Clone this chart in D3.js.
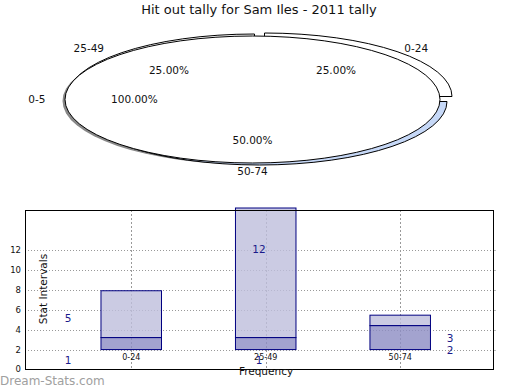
<!DOCTYPE html>
<html><head><meta charset="utf-8">
<script src="https://cdn.jsdelivr.net/npm/d3@7/dist/d3.min.js"></script>
<style>body{margin:0;background:#fff}svg{display:block}text{font-family:"DejaVu Sans",sans-serif}</style>
</head><body>
<script>
// ---- data ----
const title = "Hit out tally for Sam Iles - 2011 tally";
const pieLabels = ["0-24", "25-49", "50-74"];
const pieShares = [25, 25, 50];
const pieExtraLabel = "0-5";
const pieExtraShare = [100];

const categories = ["0-24", "25-49", "50-74"];
const barBase = [2, 2, 2];
const barLower = [3.2, 3.2, 4.4];
const barUpper = [7.9, 16.2, 5.45];
const labelLower = [1, 1, 2];
const labelUpper = [5, 12, 3];
const yTicks = [0, 2, 4, 6, 8, 10, 12];
const yGrid = [2, 4, 6, 8, 10, 12];
const xTitle = "Frequency";
const yTitle = "Stat Intervals";
const watermark = "Dream-Stats.com";

const W = 520, H = 390;
const svg = d3.select("body").append("svg").attr("width", W).attr("height", H);
const defs = svg.append("defs");
defs.append("filter").attr("id", "blur").append("feGaussianBlur").attr("stdDeviation", 0.7);

svg.append("text").attr("x", 259).attr("y", 14).attr("text-anchor", "middle")
  .attr("font-size", 13).attr("fill", "#111").text(title);

// ---- pie ----
const cx = 252.5, cy = 99.5, rx = 187.5, ry = 63.5;
const sy = ry / rx;
const arc = d3.arc().innerRadius(0).outerRadius(rx);
const pie = d3.pie().sort(null).startAngle(Math.PI / 2).endAngle(Math.PI / 2 - 2 * Math.PI);
const slices = pie(pieShares);
const full = d3.pie().sort(null)(pieExtraShare)[0];
const explode = [[12, -3], [2, -2], [7, 2]];
const fills = ["#ffffff", "#ffffff", "#c6d8f7"];
const pg = svg.append("g");

// shadow
pg.append("path").attr("d", arc(full))
  .attr("transform", `translate(${cx - 2.5},${cy + 1.5}) scale(1,${sy})`)
  .attr("fill", "#888").attr("filter", "url(#blur)");
// exploded slices
[1, 0, 2].forEach(i => {
  pg.append("path").attr("d", arc(slices[i]))
    .attr("transform", `translate(${cx + explode[i][0]},${cy + explode[i][1]}) scale(1,${sy})`)
    .attr("fill", fills[i]).attr("stroke", "#000").attr("stroke-width", 1)
    .attr("vector-effect", "non-scaling-stroke");
});
// full slice
pg.append("path").attr("d", arc(full))
  .attr("transform", `translate(${cx},${cy}) scale(1,${sy})`)
  .attr("fill", "#fff").attr("stroke", "#000").attr("stroke-width", 1)
  .attr("vector-effect", "non-scaling-stroke");

function midPoint(a, kx, ky) {
  return [cx + Math.sin(a) * rx * kx, cy - Math.cos(a) * ry * ky];
}
const mids = slices.map(s => (s.startAngle + s.endAngle) / 2).concat([3 * Math.PI / 2]);
const allLabels = pieLabels.concat([pieExtraLabel]);
const allShares = pieShares.concat(pieExtraShare);
mids.forEach((a, i) => {
  const kx = 1.15 + 0.12 * Math.abs(Math.cos(a));
  const [lx, ly] = midPoint(a, kx, 1.13);
  pg.append("text").attr("x", lx).attr("y", ly).attr("dy", "0.35em")
    .attr("text-anchor", "middle").attr("font-size", 10.5).attr("fill", "#111").text(allLabels[i]);
  const [px, py] = midPoint(a, 0.63, 0.64);
  pg.append("text").attr("x", px).attr("y", py).attr("dy", "0.35em")
    .attr("text-anchor", "middle").attr("font-size", 10.5).attr("fill", "#111")
    .text(d3.format(".2f")(allShares[i]) + "%");
});

// ---- bar chart ----
const pl = 25, pr = 493, pt = 210, pb = 369.5;
const x = d3.scaleLinear().domain([-0.79, 2.69]).range([pl, pr]);
const y = d3.scaleLinear().domain([0, 16]).range([pb, pt]);
const bw = x(0.45) - x(0);
const bg = svg.append("g");

// grid (behind, bars semi-transparent)
yGrid.forEach(v => {
  const yy = Math.round(y(v)) + 0.5;
  bg.append("line").attr("x1", pl).attr("x2", pr).attr("y1", yy).attr("y2", yy)
    .attr("stroke", "#999").attr("stroke-dasharray", "1,2");
  bg.append("line").attr("x1", pr).attr("x2", pr + 3).attr("y1", yy).attr("y2", yy)
    .attr("stroke", "#bbb");
});
categories.forEach((c, i) => {
  const xx = Math.round(x(i)) + 0.5;
  bg.append("line").attr("x1", xx).attr("x2", xx).attr("y1", pt).attr("y2", pb)
    .attr("stroke", "#999").attr("stroke-dasharray", "2,2");
});

categories.forEach((c, i) => {
  bg.append("rect").attr("x", x(i) - bw / 2).attr("width", bw)
    .attr("y", y(barUpper[i])).attr("height", y(barLower[i]) - y(barUpper[i]))
    .attr("fill", "#bebedc").attr("fill-opacity", 0.8).attr("stroke", "#000080").attr("stroke-width", 1);
  bg.append("rect").attr("x", x(i) - bw / 2).attr("width", bw)
    .attr("y", y(barLower[i])).attr("height", y(barBase[i]) - y(barLower[i]))
    .attr("fill", "#8c8cc3").attr("fill-opacity", 0.8).attr("stroke", "#000080").attr("stroke-width", 1);
});

// frame
bg.append("rect").attr("x", pl + 0.5).attr("y", pt + 0.5).attr("width", pr - pl).attr("height", pb - pt - 0.5)
  .attr("fill", "none").attr("stroke", "#000");

// y axis labels
yTicks.forEach(v => {
  bg.append("text").attr("x", 21).attr("y", y(v)).attr("dy", "0.35em").attr("text-anchor", "end")
    .attr("font-size", 8.5).attr("fill", "#111").text(v);
});
// x tick labels
categories.forEach((c, i) => {
  bg.append("text").attr("x", x(i)).attr("y", 357.5).attr("dy", "0.35em").attr("text-anchor", "middle")
    .attr("font-size", 8).attr("fill", "#111").text(c);
});

// value labels
const lx = d3.scalePoint().domain(categories).range([68, 450]);
categories.forEach((c, i) => {
  bg.append("text").attr("x", lx(c)).attr("y", y(labelLower[i]) + 1).attr("dy", "0.35em").attr("text-anchor", "middle")
    .attr("font-size", 10.5).attr("fill", "#1a1a8a").text(labelLower[i]);
  bg.append("text").attr("x", lx(c)).attr("y", y(labelUpper[i]) - 1).attr("dy", "0.35em").attr("text-anchor", "middle")
    .attr("font-size", 10.5).attr("fill", "#1a1a8a").text(labelUpper[i]);
});

bg.append("text").attr("x", 266).attr("y", 371).attr("dy", "0.35em").attr("text-anchor", "middle")
  .attr("font-size", 10.5).attr("fill", "#111").text(xTitle);
bg.append("text").attr("transform", "translate(43,289) rotate(-90)").attr("dy", "0.35em").attr("text-anchor", "middle")
  .attr("font-size", 10.5).attr("fill", "#111").text(yTitle);

svg.append("text").attr("x", 0).attr("y", 385).attr("font-size", 12)
  .attr("fill", "#a0a0a0").text(watermark);
</script>
</body></html>
